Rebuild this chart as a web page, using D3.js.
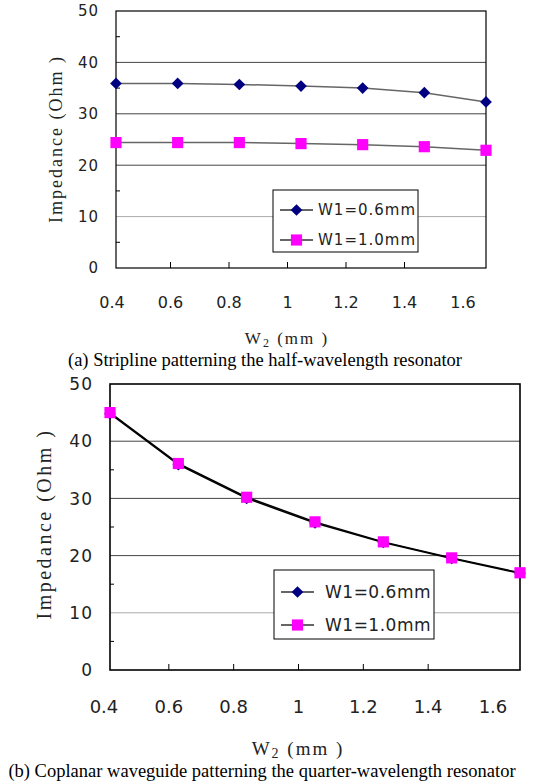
<!DOCTYPE html>
<html>
<head>
<meta charset="utf-8">
<script src="https://cdn.jsdelivr.net/npm/d3@7"></script>
<style>
  body { margin: 0; background: #fff; }
  text { font-family: "DejaVu Sans", sans-serif; fill: #222; }
  .title { font-family: "Liberation Serif", serif; }
  .caption { font-family: "Liberation Serif", "Times New Roman", serif; fill: #000; }
</style>
</head>
<body>
<div id="chart"></div>
<script>
// values
const widths = [0.4, 0.6, 0.8, 1.0, 1.2, 1.4, 1.6];
const tickLabels = ["0.4", "0.6", "0.8", "1", "1.2", "1.4", "1.6"];
const yTicks = [0, 10, 20, 30, 40, 50];
const seriesNames = ["W1=0.6mm", "W1=1.0mm"];

const stripW06 = [35.9, 35.9, 35.7, 35.4, 35.0, 34.1, 32.3];
const stripW10 = [24.4, 24.4, 24.4, 24.2, 24.0, 23.6, 22.9];
const cpwW06 = [44.8, 35.9, 30.0, 25.7, 22.3, 19.5, 16.9];
const cpwW10 = [45.0, 36.1, 30.2, 25.9, 22.4, 19.6, 17.0];

const svg = d3.select("#chart").append("svg")
  .attr("width", 551).attr("height", 784);

// diamond = square turned 45deg, so it is as wide as it is tall
function marker(sel, s, size) {
  if (s.shape === "diamond") {
    sel.attr("d", d3.symbol().type(d3.symbolSquare).size(size * 0.55));
  } else {
    sel.attr("d", d3.symbol().type(d3.symbolSquare).size(size));
  }
}

function drawChart(opt) {
  const g = svg.append("g");
  const x = d3.scaleLinear().domain([0.4, 1.6]).range([opt.left, opt.right]);
  // category labels sit slightly off the data positions in the original
  const xLab = d3.scaleLinear().domain([0.4, 1.6]).range(opt.labRange);
  const y = d3.scaleLinear().domain([0, 50]).range([opt.bottom, opt.top]);

  // gridlines
  g.selectAll(".grid").data([10, 20, 30, 40]).enter().append("line")
    .attr("x1", opt.left).attr("x2", opt.right)
    .attr("y1", d => y(d)).attr("y2", d => y(d))
    .attr("stroke", d => d === 10 ? "#aaa" : "#444")
    .attr("stroke-width", 1);

  // minor y ticks
  g.selectAll(".ytick").data([5, 15, 25, 35, 45]).enter().append("line")
    .attr("x1", opt.left).attr("x2", opt.left + 4)
    .attr("y1", d => y(d)).attr("y2", d => y(d))
    .attr("stroke", "#000");

  // x ticks (inward)
  g.selectAll(".xtick").data(widths.slice(1, -1)).enter().append("line")
    .attr("x1", d => xLab(d)).attr("x2", d => xLab(d))
    .attr("y1", opt.bottom).attr("y2", opt.bottom - 6)
    .attr("stroke", "#000");

  // frame
  g.append("rect")
    .attr("x", opt.left).attr("y", opt.top)
    .attr("width", opt.right - opt.left).attr("height", opt.bottom - opt.top)
    .attr("fill", "none").attr("stroke", "#000").attr("stroke-width", opt.frame);

  // y labels
  g.selectAll(".ylab").data(yTicks).enter().append("text")
    .attr("x", opt.left - 17).attr("y", d => y(d))
    .attr("dy", "0.36em")
    .attr("text-anchor", "end")
    .style("font-size", opt.font + "px")
    .style("letter-spacing", "1px")
    .text(d => d);

  // x labels
  g.selectAll(".xlab").data(widths).enter().append("text")
    .attr("x", d => xLab(d)).attr("y", opt.xLabY)
    .attr("text-anchor", "middle")
    .style("font-size", (opt.font + 1) + "px")
    .text((d, i) => tickLabels[i]);

  // axis titles
  g.append("text").attr("class", "title")
    .attr("transform", `translate(${opt.yTitleX},${opt.yTitleY}) rotate(-90)`)
    .attr("text-anchor", "middle")
    .style("font-size", (opt.font + 3) + "px")
    .style("letter-spacing", opt.titleSpacing + "px")
    .text("Impedance (Ohm )");

  const xt = g.append("text").attr("class", "title")
    .attr("x", opt.xTitleX).attr("y", opt.xTitleY)
    .attr("text-anchor", "middle")
    .style("font-size", (opt.font + 2) + "px")
    .style("letter-spacing", "2px");
  xt.append("tspan").text("W");
  xt.append("tspan").attr("dy", 3).style("font-size", (opt.font - 3) + "px").text("2");
  xt.append("tspan").attr("dy", -3).text(" (mm )");

  // lines and markers
  const line = d3.line().x((d, i) => x(widths[i])).y(d => y(d));
  const series = [
    { name: seriesNames[0], values: opt.s1, shape: "diamond", color: "#000080" },
    { name: seriesNames[1], values: opt.s2, shape: "square", color: "#ff00ff" }
  ];
  series.forEach(s => {
    g.append("path").attr("d", line(s.values))
      .attr("fill", "none").attr("stroke", opt.lineColor).attr("stroke-width", 1.5);
  });
  series.forEach(s => {
    g.selectAll(null).data(s.values).enter().append("path")
      .call(marker, s, opt.mk)
      .attr("transform", (d, i) => `translate(${x(widths[i])},${y(d)})` + (s.shape === "diamond" ? " rotate(45)" : ""))
      .attr("fill", s.color);
  });

  // legend
  const L = opt.legend;
  const lg = g.append("g");
  lg.append("rect")
    .attr("x", L.x).attr("y", L.y)
    .attr("width", L.w).attr("height", L.h)
    .attr("fill", "#fff").attr("stroke", "#000");
  series.forEach((s, i) => {
    const ry = L.y + L.row0 + i * L.step;
    const lx = L.x + 7;
    lg.append("line").attr("x1", lx).attr("x2", lx + 33)
      .attr("y1", ry).attr("y2", ry).attr("stroke", "#333").attr("stroke-width", 1.5);
    lg.append("path").call(marker, s, opt.mk)
      .attr("transform", `translate(${lx + 16.5},${ry})` + (s.shape === "diamond" ? " rotate(45)" : ""))
      .attr("fill", s.color);
    lg.append("text").attr("x", lx + L.textOff).attr("y", ry).attr("dy", "0.36em")
      .style("font-size", opt.font + "px").style("letter-spacing", L.spacing + "px")
      .text(s.name);
  });

  // caption
  g.append("text").attr("class", "caption")
    .attr("x", opt.capX).attr("y", opt.capY)
    .attr("text-anchor", "middle")
    .style("font-size", "18.5px")
    .text(opt.caption);
}

drawChart({
  left: 116, right: 486, top: 11, bottom: 268,
  labRange: [112, 463], xLabY: 308, font: 15, frame: 1.2,
  yTitleX: 62, yTitleY: 139, titleSpacing: 2,
  xTitleX: 287, xTitleY: 344,
  s1: stripW06, s2: stripW10, lineColor: "#666",
  mk: 125,
  legend: { x: 273, y: 190, w: 145, h: 62, row0: 20, step: 30, textOff: 38, spacing: 1 },
  caption: "(a) Stripline patterning the half-wavelength resonator",
  capX: 265, capY: 366
});

drawChart({
  left: 110, right: 520, top: 384, bottom: 670,
  labRange: [104, 493], xLabY: 713, font: 17, frame: 1.6,
  yTitleX: 51, yTitleY: 524, titleSpacing: 2.5,
  xTitleX: 298, xTitleY: 755,
  s1: cpwW06, s2: cpwW10, lineColor: "#000",
  mk: 125,
  legend: { x: 274, y: 570, w: 160, h: 69, row0: 22, step: 33, textOff: 44, spacing: 0.5 },
  caption: "(b) Coplanar waveguide patterning the quarter-wavelength resonator",
  capX: 262, capY: 777
});
</script>
</body>
</html>
